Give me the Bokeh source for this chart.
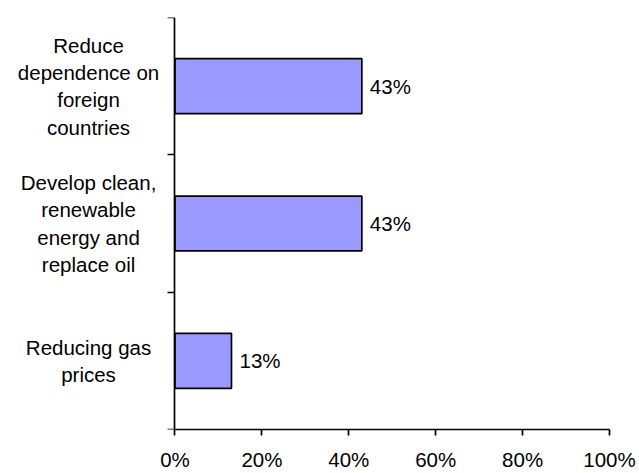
from bokeh.plotting import figure
from bokeh.models import (ColumnDataSource, Range1d, FixedTicker, NumeralTickFormatter,
                          LinearAxis)
from bokeh.core.properties import value
from bokeh.embed import file_html
from bokeh.resources import INLINE

# Survey answers, bottom to top
categories = ["Reducing gas\nprices",
              "Develop clean,\nrenewable\nenergy and\nreplace oil",
              "Reduce\ndependence on\nforeign\ncountries"]
shares = [13, 43, 43]          # percent
share_labels = ["13%", "43%", "43%"]
x_ticks = [0, 0.2, 0.4, 0.6, 0.8, 1.0]

FONT = "Liberation Sans"
FSIZE = "20.5px"

pos = [i + 0.5 for i in range(len(categories))]
src = ColumnDataSource(dict(
    y=pos,
    share=[s / 100 for s in shares],
    label=share_labels,
    cat=categories,
))
name_x = -0.199   # centre of the category names, left of the value axis

# The frame spans the full width; the value scale runs 0..1 inside it and
# the category names sit to the left of x = 0.
p = figure(width=639, height=473, output_backend="svg", toolbar_location=None,
           x_range=Range1d(-0.4016, 1.023), y_range=Range1d(0, len(categories)),
           y_axis_location=None,
           min_border_left=0, min_border_right=20,
           min_border_top=17, min_border_bottom=40)
p.outline_line_color = None
p.xgrid.visible = False
p.ygrid.visible = False
p.background_fill_color = "white"
p.border_fill_color = "white"

p.hbar(y="y", right="share", left=0, height=0.4, source=src,
       fill_color="#9999FF", line_color="black", line_width=1.7)

p.text(x="share", y="y", text="label", source=src, x_offset=8,
       text_font=value(FONT), text_font_size=FSIZE,
       text_align="left", text_baseline="middle", text_color="black")

p.text(x=name_x, y="y", text="cat", source=src,
       text_font=value(FONT), text_font_size=FSIZE,
       text_align="center", text_baseline="middle",
       text_line_height=1.19, text_color="black")

# x axis: percent scale from 0 to 100 %
xa = p.xaxis[0]
xa.bounds = (0, 1)
xa.ticker = FixedTicker(ticks=x_ticks, minor_ticks=[])
xa.formatter = NumeralTickFormatter(format="0%")
xa.axis_line_width = 1.7
xa.axis_line_color = "black"
xa.major_tick_line_width = 1.7
xa.major_tick_out = 6
xa.major_tick_in = 0
xa.minor_tick_line_color = None
xa.major_label_text_font = FONT
xa.major_label_text_font_size = FSIZE
xa.major_label_text_color = "black"
xa.major_label_standoff = 12

# category axis drawn at x = 0, tick marks between categories pointing left
ya = LinearAxis(fixed_location=0,
                ticker=FixedTicker(ticks=list(range(len(categories) + 1)), minor_ticks=[]))
ya.major_label_text_font_size = "0px"
ya.major_label_text_color = None
ya.major_label_standoff = 0
ya.axis_line_width = 1.7
ya.axis_line_color = "black"
ya.major_tick_line_width = 1.7
ya.major_tick_out = 0
ya.major_tick_in = 7
ya.minor_tick_line_color = None
p.add_layout(ya, "right")

open("out.html", "w").write(file_html(p, INLINE))
